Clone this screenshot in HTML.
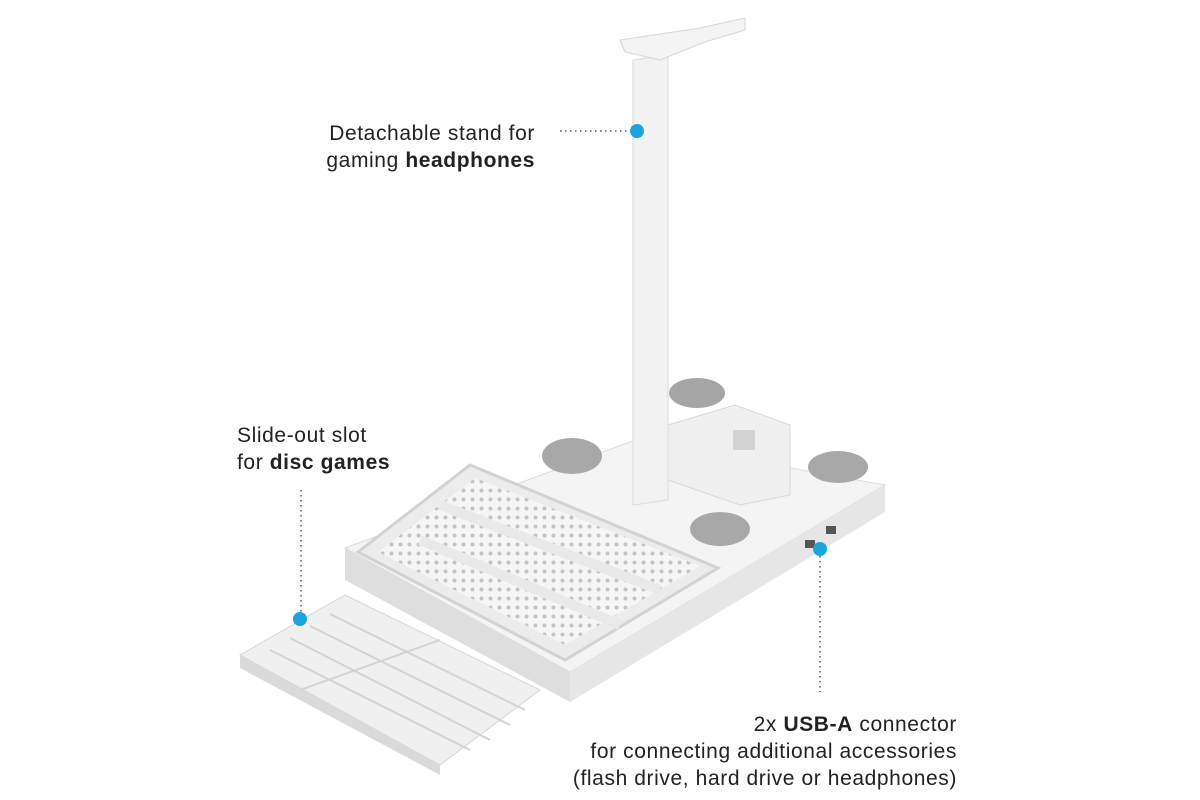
<!DOCTYPE html>
<html><head><meta charset="utf-8"><style>
html,body{margin:0;padding:0;background:#fff;}
body{width:1200px;height:800px;position:relative;overflow:hidden;font-family:"Liberation Sans",sans-serif;color:#222;}
.t{position:absolute;font-size:21px;line-height:27px;letter-spacing:0.6px;}
b{font-weight:bold;}
</style></head><body>
<svg width="1200" height="800" style="position:absolute;left:0;top:0">
<defs>
<pattern id="dots" width="9" height="9" patternUnits="userSpaceOnUse">
<rect width="9" height="9" fill="#f6f6f6"/><circle cx="4.5" cy="4.5" r="2" fill="#c4c4c4"/>
</pattern>
</defs>
<polygon points="345,548 635,440 885,485 570,672" fill="#f4f4f4" stroke="#dcdcdc"/>
<polygon points="570,672 885,485 885,512 570,702" fill="#e6e6e6"/>
<polygon points="345,548 570,672 570,702 345,580" fill="#dedede"/>
<polygon points="358,552 470,465 718,568 565,660" fill="#ececec" stroke="#d2d2d2" stroke-width="3"/>
<polygon points="378,552 475,478 700,566 565,645" fill="url(#dots)"/>
<line x1="420" y1="540" x2="620" y2="625" stroke="#e9e9e9" stroke-width="10"/>
<line x1="440" y1="505" x2="660" y2="590" stroke="#e9e9e9" stroke-width="10"/>
<ellipse cx="697" cy="393" rx="28" ry="15" fill="#a5a5a5"/>
<ellipse cx="572" cy="456" rx="30" ry="18" fill="#a8a8a8"/>
<ellipse cx="838" cy="467" rx="30" ry="16" fill="#a8a8a8"/>
<ellipse cx="720" cy="529" rx="30" ry="17" fill="#a8a8a8"/>
<polygon points="668,425 735,405 790,425 790,495 740,505 668,480" fill="#f0f0f0" stroke="#d8d8d8"/>
<rect x="733" y="430" width="22" height="20" fill="#d3d3d3"/>
<rect x="805" y="540" width="10" height="8" fill="#555"/>
<rect x="826" y="526" width="10" height="8" fill="#555"/>
<polygon points="240,655 345,595 540,690 440,765" fill="#f0f0f0" stroke="#d6d6d6"/>
<polygon points="240,655 440,765 440,775 240,668" fill="#dadada"/>
<g stroke="#d3d3d3" stroke-width="2">
<line x1="270" y1="650" x2="470" y2="750"/><line x1="290" y1="638" x2="490" y2="740"/>
<line x1="310" y1="626" x2="510" y2="725"/><line x1="330" y1="614" x2="525" y2="710"/>
<line x1="300" y1="690" x2="440" y2="640"/>
</g>
<polygon points="633,60 668,55 668,500 633,505" fill="#f2f2f2" stroke="#dadada"/>
<polygon points="620,40 700,28 745,18 745,30 705,42 660,60 625,52" fill="#f4f4f4" stroke="#d6d6d6"/>
<g stroke="#555" stroke-width="1.5" stroke-dasharray="1.5,3.5" fill="none">
<line x1="560" y1="131" x2="630" y2="131"/>
<line x1="301" y1="490" x2="301" y2="612"/>
<line x1="820" y1="556" x2="820" y2="692"/>
</g>
<circle cx="637" cy="131" r="7" fill="#1ea3de"/>
<circle cx="300" cy="619" r="7" fill="#1ea3de"/>
<circle cx="820" cy="549" r="7" fill="#1ea3de"/>
</svg>
<div class="t" style="right:665px;top:120px;text-align:right">Detachable stand for<br>gaming <b>headphones</b></div>
<div class="t" style="left:237px;top:422px">Slide-out slot<br>for <b>disc games</b></div>
<div class="t" style="right:243px;top:711px;text-align:right">2x <b>USB-A</b> connector<br>for connecting additional accessories<br>(flash drive, hard drive or headphones)</div>
</body></html>
